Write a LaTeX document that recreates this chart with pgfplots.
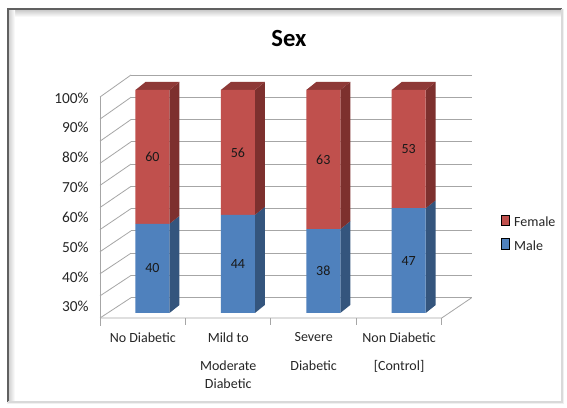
\documentclass[border=0pt]{standalone}
\usepackage{pgfplots}
\pgfplotsset{compat=1.18}
\usepackage{pgfplotstable}
\usepackage{fontspec}
\setmainfont{Carlito}
\definecolor{fred}{HTML}{C0504D}
\definecolor{fredside}{HTML}{7D302E}
\definecolor{fredtop}{HTML}{8E3937}
\definecolor{fblue}{HTML}{4F81BD}
\definecolor{fblueside}{HTML}{34557D}
\definecolor{gridc}{HTML}{A6A6A6}
\pgfplotstableread{
x male female
0 40   60
1 44   56
2 37.6 62.4
3 47   53
}\sexdata
\pgfplotsset{
  frontgeom/.style={scale only axis, width=256.275pt, height=167.25pt,
    at={(75pt,70.5pt)}, anchor=south west,
    xmin=-0.614, xmax=3.386, ymin=0, ymax=100},
}
\begin{document}
\begin{tikzpicture}
\begin{scope}[x=0.75pt,y=-0.75pt,yshift=305.25pt]
% canvas (pixel coordinates, y downwards)
\fill[white] (0,0) rectangle (567,407);
% frame
\fill[gray!12] (7,9) rectangle (564,404);
\fill[white] (9,11) rectangle (561,401);
\shade[top color=gray!35, bottom color=white] (9,11) rectangle (561,17);
\shade[left color=gray!35, right color=white] (9,11) rectangle (15,401);
\draw[gray!75!black, line width=1.5pt] (7.5,402) -- (7.5,9.5) -- (562,9.5);
\draw[gray!30, line width=2pt] (562,9.5) -- (562,402) -- (7.5,402);
% title
\node[font=\bfseries\fontsize{18.5}{22}\selectfont] at (289,39) {Sex};
% left wall diagonals and front vertical line
\foreach \v in {0,10,...,100}{
  \draw[gridc, line width=0.6pt] (100,{318-2.21*\v}) -- (131,{297.7-2.227*\v});
}
\draw[gridc, line width=0.6pt] (100,97) -- (100,326);
% floor
\draw[gridc, line width=0.6pt] (100,318) -- (441.7,318) -- (471.7,297.7);
\foreach \k in {0,1,2,3,4}{
  \draw[gridc, line width=0.6pt] ({100+85.43*\k},318) -- ({100+85.43*\k},325);
}
\end{scope}
% back wall gridlines
\begin{axis}[scale only axis, width=255.525pt, height=167.025pt,
  at={(98.25pt,81.975pt)}, anchor=south west,
  xmin=0, xmax=1, ymin=0, ymax=100,
  xtick=\empty, ytick={0,10,...,100}, yticklabels={},
  major tick length=0pt, axis line style={draw=none},
  ymajorgrids, grid style={gridc, line width=0.6pt}]
\end{axis}
% y labels
\begin{axis}[scale only axis, width=1pt, height=156.525pt,
  at={(74pt,75.225pt)}, anchor=south west,
  xmin=0, xmax=1, ymin=30, ymax=100,
  xtick=\empty, ytick={30,40,...,100},
  yticklabel={\pgfmathprintnumber{\tick}\%},
  /pgf/number format/assume math mode=true,
  yticklabel style={font=\fontsize{11.5}{13}\selectfont, text=black!85, xshift=-4pt},
  major tick length=0pt, axis line style={draw=none}]
\end{axis}
% bar sides and tops
\begin{axis}[frontgeom, hide axis, clip=false]
\addplot[fill=fblueside, draw=none] coordinates {(0.199,0) (0.316,3.59) (0.316,43.59) (0.199,40)} --cycle;
\addplot[fill=fredside, draw=none] coordinates {(0.199,40) (0.316,43.59) (0.316,103.59) (0.199,100)} --cycle;
\addplot[fill=fredtop, draw=none] coordinates {(-0.199,100) (0.199,100) (0.316,103.59) (-0.082,103.59)} --cycle;
\addplot[fill=fblueside, draw=none] coordinates {(1.199,0) (1.316,3.59) (1.316,47.59) (1.199,44)} --cycle;
\addplot[fill=fredside, draw=none] coordinates {(1.199,44) (1.316,47.59) (1.316,103.59) (1.199,100)} --cycle;
\addplot[fill=fredtop, draw=none] coordinates {(0.801,100) (1.199,100) (1.316,103.59) (0.918,103.59)} --cycle;
\addplot[fill=fblueside, draw=none] coordinates {(2.199,0) (2.316,3.59) (2.316,41.19) (2.199,37.6)} --cycle;
\addplot[fill=fredside, draw=none] coordinates {(2.199,37.6) (2.316,41.19) (2.316,103.59) (2.199,100)} --cycle;
\addplot[fill=fredtop, draw=none] coordinates {(1.801,100) (2.199,100) (2.316,103.59) (1.918,103.59)} --cycle;
\addplot[fill=fblueside, draw=none] coordinates {(3.199,0) (3.316,3.59) (3.316,50.59) (3.199,47)} --cycle;
\addplot[fill=fredside, draw=none] coordinates {(3.199,47) (3.316,50.59) (3.316,103.59) (3.199,100)} --cycle;
\addplot[fill=fredtop, draw=none] coordinates {(2.801,100) (3.199,100) (3.316,103.59) (2.918,103.59)} --cycle;
\end{axis}
% front faces
\begin{axis}[frontgeom, ybar stacked, bar width=25.5pt,
  axis line style={draw=none}, ytick=\empty,
  xtick={-0.113,0.887,1.887,2.887},
  xticklabels={No Diabetic, {Mild to\\[8.5pt]Moderate\\Diabetic}, {Severe\\[8.5pt]Diabetic}, {Non Diabetic\\[8.5pt]{[Control]}}},
  xticklabel style={align=center, anchor=north, yshift=-11pt, font=\fontsize{10.5}{13}\selectfont, text=black!85},
  major tick length=0pt,
  reverse legend,
  ybar legend/.style={legend image code/.code={\fill[##1, draw=none] (0pt,-2.7pt) rectangle (5.4pt,2.7pt);}},
  legend style={draw=none, fill=none, at={(1.161,0.456)}, anchor=north west,
    font=\fontsize{10.5}{12}\selectfont, row sep=5pt, column sep=1.5pt, text=black!85},
  legend cell align=left]
\addplot[fill=fblue, draw=none] table[x=x, y=male] {\sexdata};
\addplot[fill=fred, draw=none] table[x=x, y=female] {\sexdata};
\legend{Male, Female}
\end{axis}
% data labels
\begin{axis}[frontgeom, hide axis]
\addplot[draw=none, mark=none, nodes near coords, point meta=explicit symbolic,
  every node near coord/.style={anchor=center, font=\fontsize{10.5}{12}\selectfont, text=black!90}]
  coordinates {(0,20)[40] (0,70)[60] (1,22)[44] (1,72)[56] (2,18.8)[38] (2,68.8)[63] (3,23.5)[47] (3,73.5)[53]};
\end{axis}
\end{tikzpicture}%
\end{document}
